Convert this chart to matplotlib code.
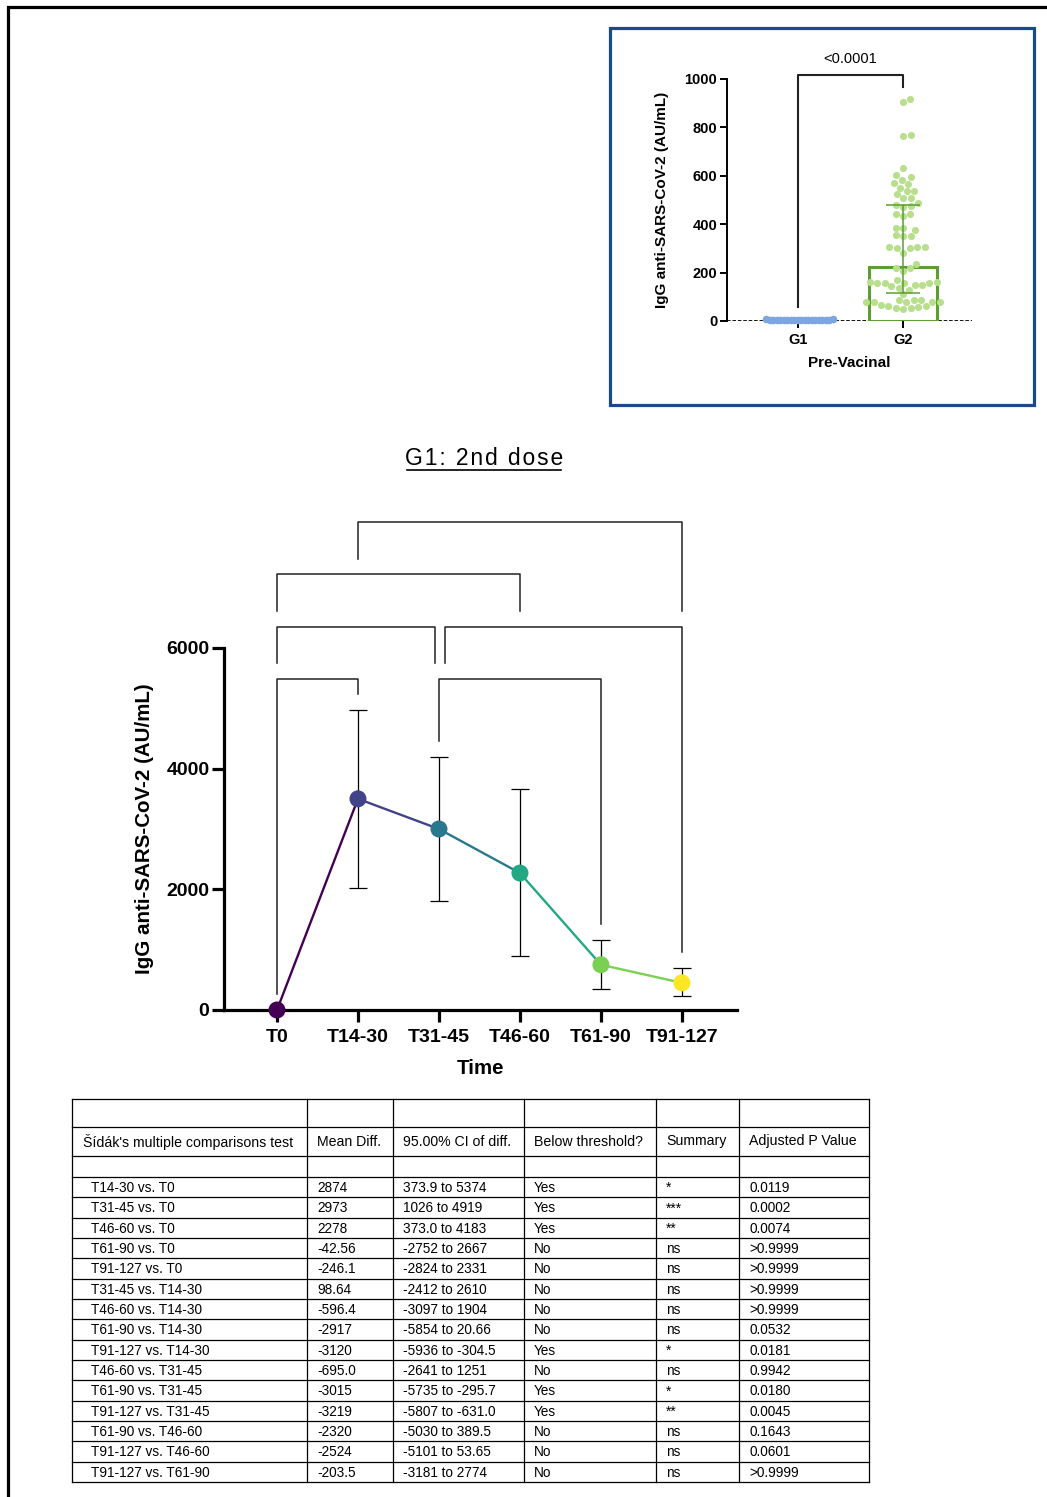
import numpy as np
import matplotlib
matplotlib.use('Agg')
import matplotlib.pyplot as plt
from matplotlib.patches import Rectangle

plt.rcParams['font.family'] = ['Liberation Sans', 'DejaVu Sans']

# ---- main chart data (G1: 2nd dose) ----
timepoints = ['T0', 'T14-30', 'T31-45', 'T46-60', 'T61-90', 'T91-127']
means = [0, 3500, 3000, 2270, 750, 450]
err_low = [0, 2020, 1810, 900, 350, 235]
err_high = [0, 4970, 4195, 3665, 1160, 700]
# significant comparisons: (group a, group b, bracket level)
brackets = [(1, 5, 4), (0, 3, 3), (0, 2, 2), (2, 5, 2), (0, 1, 1), (2, 4, 1)]

# ---- inset data (pre-vaccine) ----
groups = ['G1', 'G2']
g1_values = [4, 5, 3, 6, 4, 5, 7, 3, 4, 6, 5, 4, 3, 6, 5, 4, 7, 5, 6, 4]
g2_values = [905, 918, 768, 765, 632, 602, 594, 584, 569, 566, 551, 538, 536,
             524, 509, 509, 488, 477, 473, 479, 443, 443, 433, 385, 385, 377,
             354, 351, 351, 307, 307, 300, 300, 307, 283, 236, 218, 218, 207,
             169, 163, 163, 159, 159, 159, 159, 150, 150, 143, 136, 129, 111,
             85, 85, 85, 77, 77, 77, 77, 77, 67, 61, 57, 55, 52, 49, 60]
g2_bar = 223
g2_err = (116, 479)
p_text = '<0.0001'

# ---- table data ----
col_headers = ["Šídák's multiple comparisons test", 'Mean Diff.', '95.00% CI of diff.',
               'Below threshold?', 'Summary', 'Adjusted P Value']
comparisons = ['T14-30 vs. T0', 'T31-45 vs. T0', 'T46-60 vs. T0', 'T61-90 vs. T0',
               'T91-127 vs. T0', 'T31-45 vs. T14-30', 'T46-60 vs. T14-30',
               'T61-90 vs. T14-30', 'T91-127 vs. T14-30', 'T46-60 vs. T31-45',
               'T61-90 vs. T31-45', 'T91-127 vs. T31-45', 'T61-90 vs. T46-60',
               'T91-127 vs. T46-60', 'T91-127 vs. T61-90']
mean_diff = ['2874', '2973', '2278', '-42.56', '-246.1', '98.64', '-596.4', '-2917',
             '-3120', '-695.0', '-3015', '-3219', '-2320', '-2524', '-203.5']
ci_diff = ['373.9 to 5374', '1026 to 4919', '373.0 to 4183', '-2752 to 2667',
           '-2824 to 2331', '-2412 to 2610', '-3097 to 1904', '-5854 to 20.66',
           '-5936 to -304.5', '-2641 to 1251', '-5735 to -295.7', '-5807 to -631.0',
           '-5030 to 389.5', '-5101 to 53.65', '-3181 to 2774']
below = ['Yes', 'Yes', 'Yes', 'No', 'No', 'No', 'No', 'No', 'Yes', 'No', 'Yes',
         'Yes', 'No', 'No', 'No']
summary = ['*', '***', '**', 'ns', 'ns', 'ns', 'ns', 'ns', '*', 'ns', '*', '**',
           'ns', 'ns', 'ns']
p_adj = ['0.0119', '0.0002', '0.0074', '>0.9999', '>0.9999', '>0.9999', '>0.9999',
         '0.0532', '0.0181', '0.9942', '0.0180', '0.0045', '0.1643', '0.0601',
         '>0.9999']

W, H = 1047, 1497


def box(l, t, r, b):
    return [l / W, 1 - b / H, (r - l) / W, (b - t) / H]


def swarm(values, sx, sy, diam):
    # simple beeswarm: x offsets (data units) so points do not overlap
    vals = np.asarray(values, float)
    xs = np.zeros(len(vals))
    placed = []
    steps = np.arange(0.5, 200, 0.5)
    cand = np.concatenate([[0], np.column_stack([steps, -steps]).ravel()])
    for i in np.argsort(vals, kind='stable'):
        y = vals[i] * sy
        for c in cand:
            if all((c - px) ** 2 + (y - py) ** 2 >= diam ** 2 for px, py in placed):
                break
        placed.append((c, y))
        xs[i] = c / sx
    return xs


fig = plt.figure(figsize=(W / 100, H / 100), dpi=100)

# overlay for frame, boxes, title, table
ov = fig.add_axes([0, 0, 1, 1])
ov.set_xlim(0, W)
ov.set_ylim(H, 0)
ov.axis('off')
ov.patch.set_alpha(0)

ov.plot([8, 8, W], [H, 7, 7], color='black', lw=2.3, solid_joinstyle='miter')
ov.add_patch(Rectangle((610, 28), 424, 377, fill=False, edgecolor='#1b4a8c', lw=2.3))

title = 'G1: 2nd dose'
ov.text(484, 465, '\u200a'.join(title), fontsize=16.5, ha='center', va='baseline',
        family=['Liberation Sans', 'DejaVu Sans'])
ov.plot([407, 561], [470, 470], color='black', lw=1.2)

# ---- table ----
col_x = [72, 307, 393, 524, 656, 739, 869]
row_y = [1099, 1127, 1156, 1177] + [1177 + 20.33 * (k + 1) for k in range(len(comparisons))]
for y in row_y:
    ov.plot([col_x[0], col_x[-1]], [y, y], color='black', lw=0.9)
for x in col_x:
    ov.plot([x, x], [row_y[0], row_y[-1]], color='black', lw=0.9)
for j, h in enumerate(col_headers):
    ov.text(col_x[j] + (11 if j == 0 else 10), (row_y[1] + row_y[2]) / 2, h,
            fontsize=10.2, va='center', ha='left')
columns = [comparisons, mean_diff, ci_diff, below, summary, p_adj]
for j, col in enumerate(columns):
    for k, val in enumerate(col):
        yc = (row_y[3 + k] + row_y[4 + k]) / 2 + 1
        ov.text(col_x[j] + (19 if j == 0 else 10), yc, val, fontsize=9.8,
                va='center', ha='left')

# ---- main chart ----
ax = fig.add_axes(box(224, 510, 737, 1010))
ax.patch.set_alpha(0)
x = np.arange(len(timepoints))
colors = plt.cm.viridis(np.linspace(0, 1, len(timepoints)))
means_a = np.array(means, float)
lo = np.array(err_low, float)
hi = np.array(err_high, float)

for i in range(len(x) - 1):
    ax.plot(x[i:i + 2], means_a[i:i + 2], color=colors[i], lw=1.7, zorder=2)
has_err = hi > means_a
ax.errorbar(x[has_err], means_a[has_err],
            yerr=[means_a[has_err] - lo[has_err], hi[has_err] - means_a[has_err]],
            fmt='none', ecolor='black', elinewidth=0.9, capsize=6.5, capthick=0.9,
            zorder=1)
ax.scatter(x, means_a, c=colors, s=150, zorder=3, clip_on=False, linewidths=0)

level_base, level_step, gap = 4618, 868, 260


def level(k):
    return level_base + level_step * k


def leg_bottom(i, k):
    lower = [level(k2) for a2, b2, k2 in brackets if k2 < k and a2 <= i <= b2]
    if lower:
        return max(lower) + gap
    return max(means_a[i], hi[i]) + gap


for a, b, k in brackets:
    xa, xb = float(a), float(b)
    for a2, b2, k2 in brackets:
        if k2 == k and b2 == a:
            xa += 0.07
        if k2 == k and a2 == b:
            xb -= 0.05
    L = level(k)
    ax.plot([xa, xa, xb, xb], [leg_bottom(a, k), L, L, leg_bottom(b, k)],
            color='#222222', lw=1.1, clip_on=False, zorder=1)

ax.set_xlim(-0.654, 5.68)
ax.set_ylim(0, 8287)
ax.set_yticks([0, 2000, 4000, 6000])
ax.set_xticks(x)
ax.set_xticklabels(timepoints)
for s in ['top', 'right']:
    ax.spines[s].set_visible(False)
for s in ['left', 'bottom']:
    ax.spines[s].set_linewidth(2.3)
ax.spines['left'].set_bounds(0, 6000)
ax.tick_params(axis='both', direction='out', length=8.5, width=2.3, labelsize=14)
ax.tick_params(axis='y', pad=2)
ax.tick_params(axis='x', pad=5)
for lab in ax.get_xticklabels() + ax.get_yticklabels():
    lab.set_fontweight('bold')
ax.set_ylabel('IgG anti-SARS-CoV-2 (AU/mL)', fontsize=14.8, fontweight='bold')
ax.yaxis.set_label_coords(-0.154, 6000 / 2 / 8287)
ax.set_xlabel('Time', fontsize=14.8, fontweight='bold')
ax.xaxis.set_label_coords(0.5, -0.118)
ax.xaxis.label.set_va('center')
ax.yaxis.label.set_va('center')

# ---- inset ----
ins = fig.add_axes(box(727, 79, 972, 321))
ins.patch.set_alpha(0)
sx, sy = 105.0, 0.242
ins.set_xlim(-0.676, 1.657)
ins.set_ylim(0, 1000)

ins.bar(1, g2_bar, width=0.65, facecolor='none', edgecolor='#5c9e31', lw=2.2, zorder=2)
ins.errorbar(1, g2_bar, yerr=[[g2_bar - g2_err[0]], [g2_err[1] - g2_bar]], fmt='none',
             ecolor='#5c9e31', elinewidth=1.1, capsize=12, capthick=1.1, zorder=4)
g1_x = swarm(g1_values, sx, sy, 3.2)
g2_x = swarm(g2_values, sx, sy, 7.3)
ins.scatter(0 + g1_x, g1_values, s=30, color='#7ea6de', linewidths=0, zorder=3,
            clip_on=False)
ins.scatter(1 + g2_x, g2_values, s=26, color='#b7df8c', linewidths=0, zorder=3,
            clip_on=False)
ins.axhline(0, color='black', lw=1.3, ls=(0, (2, 1)), zorder=1)

p_level, p_gap = 1016, 50
ins.plot([0, 0, 1, 1], [max(g1_values) + p_gap, p_level, p_level, max(g2_values) + p_gap],
         color='#222222', lw=1.5, clip_on=False)
ins.text(0.5, 1083, p_text, ha='center', va='center', fontsize=10.5)

ins.set_yticks(range(0, 1001, 200))
ins.set_xticks([0, 1])
ins.set_xticklabels(groups)
for s in ['top', 'right', 'bottom']:
    ins.spines[s].set_visible(False)
ins.spines['left'].set_linewidth(1.4)
ins.tick_params(axis='both', direction='out', length=5, width=1.4, labelsize=10.5)
ins.tick_params(axis='y', pad=2)
ins.tick_params(axis='x', pad=4)
for lab in ins.get_xticklabels() + ins.get_yticklabels():
    lab.set_fontweight('bold')
ins.set_ylabel('IgG anti-SARS-CoV-2 (AU/mL)', fontsize=11, fontweight='bold')
ins.yaxis.set_label_coords(-0.265, 0.5)
ins.yaxis.label.set_va('center')
ins.set_xlabel('Pre-Vacinal', fontsize=11, fontweight='bold')
ins.xaxis.set_label_coords(0.5, -0.174)
ins.xaxis.label.set_va('center')

fig.savefig('out.png', dpi=100)
